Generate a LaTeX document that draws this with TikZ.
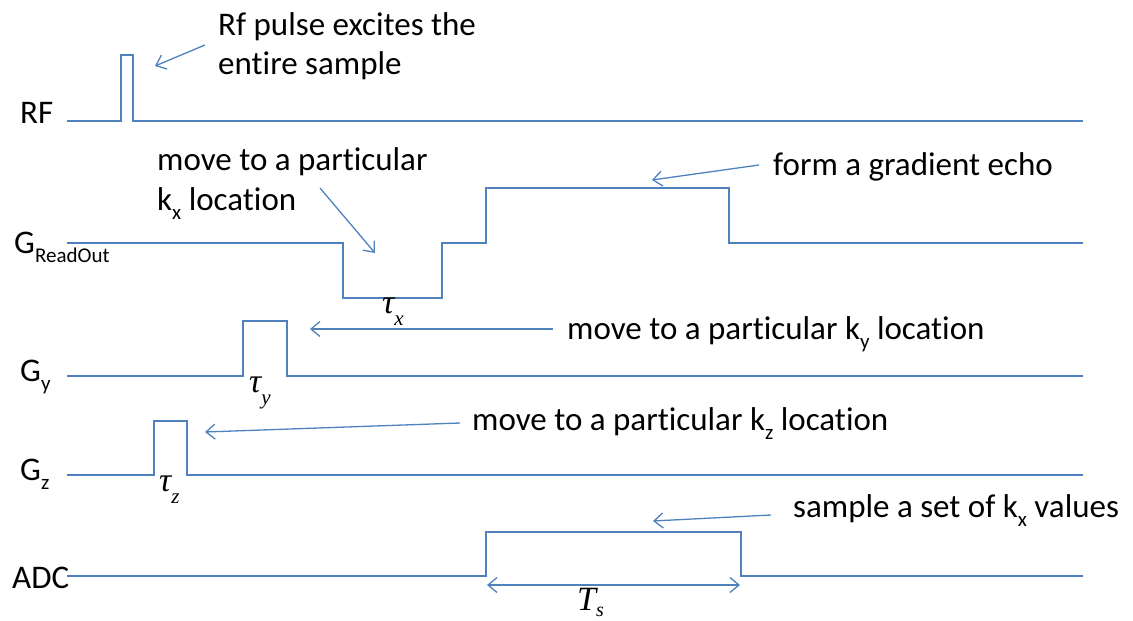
\documentclass[tikz,border=0pt]{standalone}
\usepackage{fontspec}
\setmainfont{Carlito}[Ligatures={NoCommon}]
\newfontfamily\tms{Liberation Serif}
\usetikzlibrary{arrows.meta}
\definecolor{wavec}{HTML}{4F81BD}
\newcommand{\lsub}[1]{\raisebox{-0.3em}{\fontsize{21}{21}\selectfont #1}}
\newcommand{\msub}[1]{\raisebox{-0.36em}{\fontsize{21}{21}\selectfont #1}}
\begin{document}
\begin{tikzpicture}[x=1pt,y=-1pt,
  wave/.style={draw=wavec, line width=1.6pt, line join=miter},
  ann/.style={draw=wavec, line width=1.3pt, -{Straight Barb[length=9pt,width=15pt]}},
  dim/.style={draw=wavec, line width=1.3pt, {Straight Barb[length=9pt,width=15pt]}-{Straight Barb[length=9pt,width=15pt]}},
  lbl/.style={font=\fontsize{33}{36}\selectfont, inner sep=0, anchor=base west},
  note/.style={font=\fontsize{33}{36}\selectfont, inner sep=0, anchor=base west},
  mth/.style={font=\tms\itshape\fontsize{34}{36}\selectfont, inner sep=0, anchor=base west}]
\useasboundingbox (0,0) rectangle (1133,621);
% waveforms
\draw[wave] (67,121) -- (121,121) -- (121,55) -- (133,55) -- (133,121) -- (1083,121);
\draw[wave] (67,243) -- (343,243) -- (343,298) -- (442,298) -- (442,243) -- (486,243) -- (486,188) -- (729,188) -- (729,243) -- (1083,243);
\draw[wave] (67,376) -- (243,376) -- (243,321) -- (287,321) -- (287,376) -- (1083,376);
\draw[wave] (67,475) -- (154,475) -- (154,421) -- (187,421) -- (187,475) -- (1083,475);
\draw[wave] (67,576) -- (486,576) -- (486,532) -- (741,532) -- (741,576) -- (1083,576);
% row labels
\node[lbl] (lrf) at (20,123) {RF};
\node[lbl] (lgr) at (14,253) {G\lsub{ReadOut}};
\node[lbl] (lgy) at (20,381) {G\lsub{y}};
\node[lbl] (lgz) at (20,480) {G\lsub{z}};
\node[lbl] (ladc) at (12,588) {ADC};
% timing labels
\node[mth] (tx) at (382,313) {τ\msub{x}};
\node[mth] (ty) at (249,392) {τ\msub{y}};
\node[mth] (tz) at (159,491) {τ\msub{z}};
\node[mth] (ts) at (577,610) {T\raisebox{-6pt}{\fontsize{20}{20}\selectfont s}};
\coordinate (tsa) at (487,585);
\coordinate (tsb) at (740,585);
\draw[dim] (tsa) -- (tsb);
% annotations
\node[note] (n1a) at (218,35) {Rf pulse excites the};
\node[note] (n1b) at (218,74) {entire sample};
\coordinate (a1s) at (205,45); \coordinate (a1e) at (155,66);
\draw[ann] (a1s) -- (a1e);
\node[note] (n2a) at (157,170) {move to a particular};
\node[note] (n2b) at (157,210) {k\lsub{x} location};
\coordinate (a2s) at (320,188); \coordinate (a2e) at (375,253);
\draw[ann] (a2s) -- (a2e);
\node[note] (n3) at (773,175) {form a gradient echo};
\coordinate (a3s) at (759,165); \coordinate (a3e) at (652,180);
\draw[ann] (a3s) -- (a3e);
\node[note] (n4) at (567,339) {move to a particular k\lsub{y} location};
\coordinate (a4s) at (553,329); \coordinate (a4e) at (310,329);
\draw[ann] (a4s) -- (a4e);
\node[note] (n5) at (472,430) {move to a particular k\lsub{z} location};
\coordinate (a5s) at (460,423); \coordinate (a5e) at (205,432);
\draw[ann] (a5s) -- (a5e);
\node[note] (n6) at (793,517) {sample a set of k\lsub{x} values};
\coordinate (a6s) at (771,515); \coordinate (a6e) at (653,521);
\draw[ann] (a6s) -- (a6e);
\end{tikzpicture}
\end{document}
